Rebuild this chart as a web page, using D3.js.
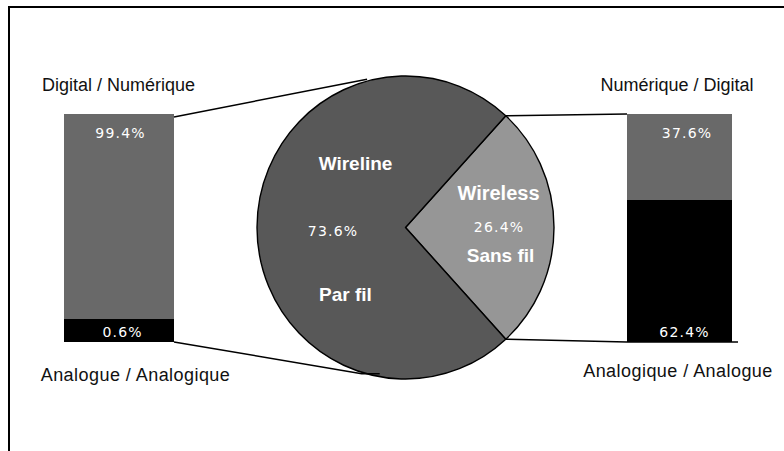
<!DOCTYPE html>
<html>
<head>
<meta charset="utf-8">
<script src="https://cdn.jsdelivr.net/npm/d3@7"></script>
<style>
  html, body { margin: 0; padding: 0; background: #fff; }
  svg { display: block; }
</style>
</head>
<body>
<svg id="chart" width="784" height="451"></svg>
<script>
// ---- Data ----
const pieNamesEn = ["Wireless", "Wireline"];
const pieNamesFr = ["Sans fil", "Par fil"];
const pieValues = [26.4, 73.6];

const barSegments = ["digital", "analog"];
const wirelineBarValues = [99.4, 0.6];   // digital, analog
const wirelessBarValues = [37.6, 62.4];  // digital, analog
const wirelineBarTitles = ["Digital / Numérique", "Analogue / Analogique"];
const wirelessBarTitles = ["Numérique / Digital", "Analogique / Analogue"];

// ---- Styles / layout ----
const colWireline = "#585858";
const colWireless = "#969696";
const colDigital = "#696969";
const colAnalog = "#000000";
const sansFont = "'Liberation Sans', Arial, Helvetica, sans-serif";
const pctFont = "'DejaVu Sans', sans-serif";

const svg = d3.select("#chart");

// frame
svg.append("rect").attr("x", 9).attr("y", 7).attr("width", 1000).attr("height", 1000)
  .attr("fill", "none").attr("stroke", "#000").attr("stroke-width", 2);

// ---- Pie ----
const cx = 405.5, cy = 227.5, rx = 148.5, ry = 151.5;
const wirelessSpan = pieValues[0] / d3.sum(pieValues) * 2 * Math.PI;
const startA = Math.PI / 2 - wirelessSpan / 2;
const pie = d3.pie().sort(null).startAngle(startA).endAngle(startA + 2 * Math.PI);
const arcs = pie(pieValues);
const arc = d3.arc().innerRadius(0).outerRadius(rx);

const pieG = svg.append("g").attr("transform", `translate(${cx},${cy}) scale(1,${ry / rx})`);
pieG.selectAll("path").data(arcs).join("path")
  .attr("d", arc)
  .attr("fill", (d, i) => i === 0 ? colWireless : colWireline)
  .attr("stroke", "#000").attr("stroke-width", 1.4)
  .attr("stroke-linejoin", "round");

function ellipsePt(angle) {
  return [cx + rx * Math.sin(angle), cy - ry * Math.cos(angle)];
}

// pie labels
const labelR = [93, 73];
const labelDx = [[0, 0, 2], [23, 0, 13]];
const nameSize = [20, 19];
arcs.forEach((d, i) => {
  const mid = (d.startAngle + d.endAngle) / 2;
  const px = cx + labelR[i] * Math.sin(mid);
  const py = cy - labelR[i] * Math.cos(mid);
  const g = svg.append("g").attr("fill", "#fff");
  g.append("text").attr("x", px + labelDx[i][0]).attr("y", py + (i === 0 ? -28 : -58))
    .attr("text-anchor", "middle").attr("font-family", sansFont).attr("font-weight", "bold")
    .attr("font-size", nameSize[i]).text(pieNamesEn[i]);
  g.append("text").attr("x", px + labelDx[i][1] + 0.6).attr("y", py + (i === 0 ? 4.5 : 8.5))
    .attr("text-anchor", "middle").attr("font-family", pctFont)
    .attr("font-size", 14).attr("letter-spacing", 1.2)
    .text(d3.format(".1f")(pieValues[i]) + "%");
  g.append("text").attr("x", px + labelDx[i][2]).attr("y", py + (i === 0 ? 34 : 73.5))
    .attr("text-anchor", "middle").attr("font-family", sansFont).attr("font-weight", "bold")
    .attr("font-size", 19).text(pieNamesFr[i]);
});

// ---- Bars ----
const barTop = 114, barBottom = 342;
const hScale = d3.scaleLinear().domain([0, 100]).range([0, barBottom - barTop]);
const minSeg = 23;

function drawBar(values, x0, x1, titles, labelShift, titleShift, bottomSpacing) {
  const hAnalog = Math.max(hScale(values[1]), minSeg);
  const yDiv = barBottom - hAnalog;
  const segs = [
    { key: barSegments[0], y: barTop, h: yDiv - barTop, fill: colDigital, v: values[0] },
    { key: barSegments[1], y: yDiv, h: hAnalog, fill: colAnalog, v: values[1] }
  ];
  const g = svg.append("g");
  g.selectAll("rect").data(segs).join("rect")
    .attr("x", x0).attr("y", d => d.y).attr("width", x1 - x0).attr("height", d => d.h)
    .attr("fill", d => d.fill);
  const xm = (x0 + x1) / 2;
  g.selectAll("text.pct").data(segs).join("text").attr("class", "pct")
    .attr("x", (d, i) => xm + labelShift[i] + 0.6)
    .attr("y", (d, i) => i === 0 ? d.y + 23.5 : d.y + d.h - 5)
    .attr("text-anchor", "middle").attr("fill", "#fff")
    .attr("font-family", pctFont).attr("font-size", 14).attr("letter-spacing", 1.2)
    .text(d => d3.format(".1f")(d.v) + "%");
  g.append("text").attr("x", xm + titleShift[0]).attr("y", barTop - 23)
    .attr("text-anchor", "middle").attr("font-family", sansFont).attr("font-size", 18)
    .attr("fill", "#111").text(titles[0]);
  g.append("text").attr("x", xm + titleShift[1]).attr("y", barBottom + (titleShift[2]))
    .attr("text-anchor", "middle").attr("font-family", sansFont).attr("font-size", 18)
    .attr("letter-spacing", bottomSpacing)
    .attr("fill", "#111").text(titles[1]);
}

drawBar(wirelineBarValues, 64, 174, wirelineBarTitles, [1, 3], [-0.5, 16.5, 38.5], 0.45);
drawBar(wirelessBarValues, 627, 732, wirelessBarTitles, [7, 4.5], [-2.5, -1.5, 35], 0.45);

// ---- Connectors ----
const line = d3.line();
const conn = svg.append("g").attr("fill", "none").attr("stroke", "#000").attr("stroke-width", 1.5);
// wireline bar to wireline slice
const pTop = ellipsePt(-15 * Math.PI / 180);
const pBot = ellipsePt(190 * Math.PI / 180);
conn.append("path").attr("d", line([[174, 117], [pTop[0], pTop[1] - 2]]));
conn.append("path").attr("d", line([[174, barBottom], [pBot[0] - 18, pBot[1] - 3], [pBot[0], pBot[1] - 3]]));
// wireless slice to wireless bar
const wA = ellipsePt(arcs[0].startAngle);
const wB = ellipsePt(arcs[0].endAngle);
conn.append("path").attr("d", line([wA, [627, barTop]]));
conn.append("path").attr("d", line([wB, [627, barBottom], [738, barBottom]]));
</script>
</body>
</html>
